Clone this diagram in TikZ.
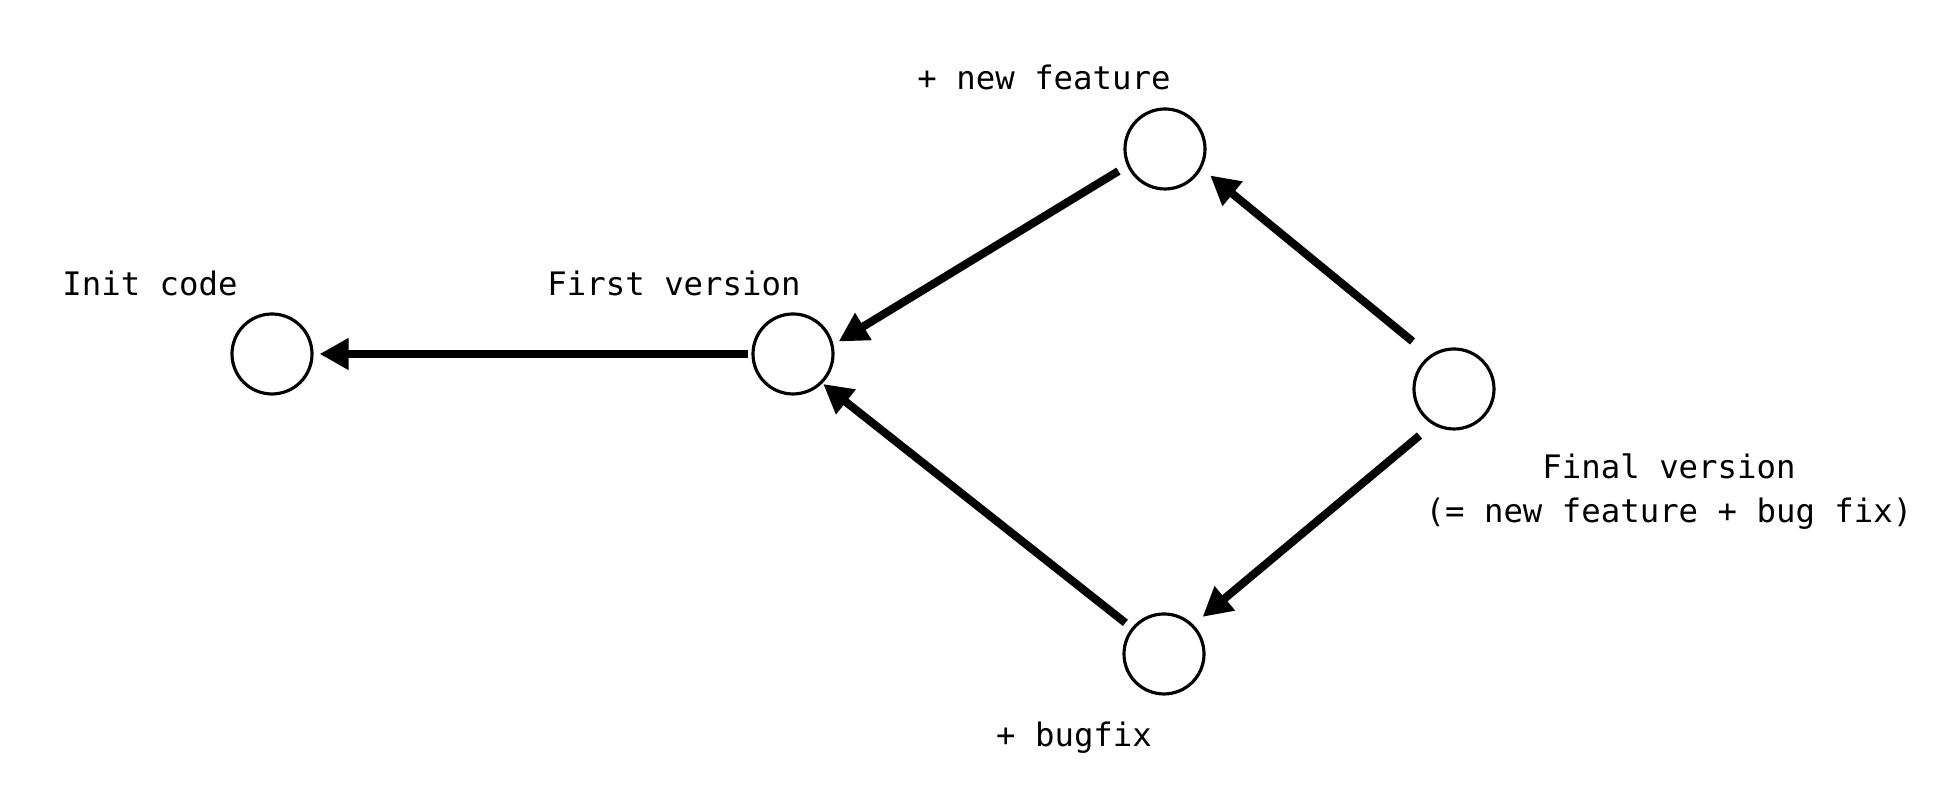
\documentclass[tikz,border=0pt]{standalone}
\usepackage{fontspec}
\setmonofont{DejaVu Sans Mono}
\usetikzlibrary{arrows.meta}
\tikzset{
  commit/.style={circle,draw,line width=0.9pt,minimum size=0.8cm,inner sep=0pt},
  txt/.style={font=\ttfamily\fontsize{9.2pt}{12.5pt}\selectfont,align=center,inner sep=0pt},
  parent/.style={-{Triangle[length=0.29cm,width=0.30cm]},line width=2.3pt}
}
\begin{document}
\begin{tikzpicture}
\useasboundingbox (0,0) rectangle (19.56,8.12);
\node[commit] (init)  at (2.72,4.58) {};
\node[commit] (first) at (7.93,4.58) {};
\node[commit] (feat)  at (11.65,6.63) {};
\node[commit] (fix)   at (11.64,1.58) {};
\node[commit] (final) at (14.54,4.23) {};
\node[txt] (initlbl)  at (1.50,5.29) {Init code};
\node[txt] (firstlbl) at (6.74,5.29) {First version};
\node[txt] (featlbl)  at (10.44,7.35) {+ new feature};
\node[txt] (fixlbl)   at (10.74,0.74) {+ bugfix};
\node[txt] (finallbl) at (16.69,3.20) {Final version\\(= new feature + bug fix)};
\draw[parent,shorten <=0.03cm,shorten >=0.06cm] (first.west) -- (init.east);
\draw[parent,shorten <=0.10cm,shorten >=0.06cm] (feat.204) -- (first.13);
\draw[parent,shorten <=0.08cm,shorten >=0.01cm] (fix.141) -- (first.315);
\draw[parent,shorten <=0.22cm,shorten >=0.11cm] (final.126) -- (feat.332);
\draw[parent,shorten <=0.17cm,shorten >=0.12cm] (final.239) -- (fix.45);
\end{tikzpicture}
\end{document}
